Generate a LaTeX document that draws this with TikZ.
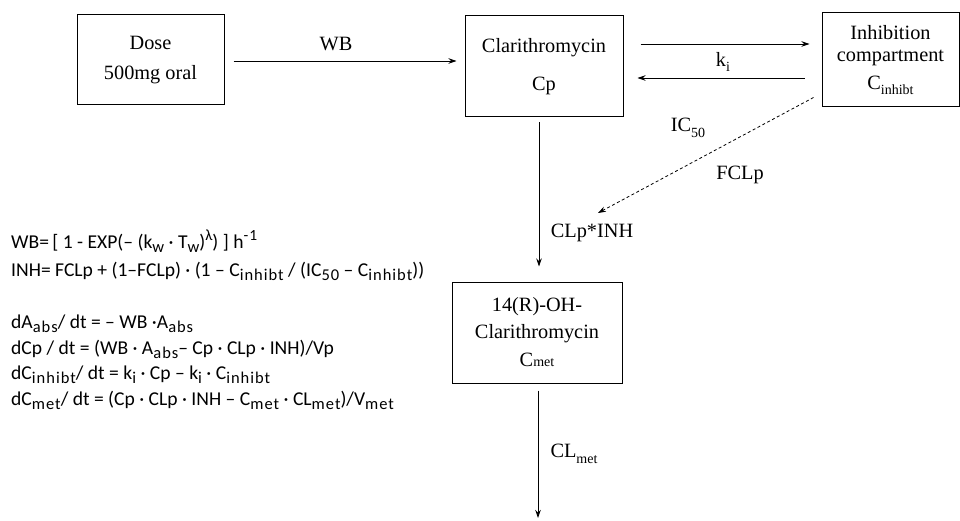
\documentclass[tikz,border=0pt]{standalone}
\usepackage{fontspec}
\setmainfont{Liberation Serif}
\newfontfamily\eqfont{Carlito}
\newfontfamily\subfont[LetterSpace=6]{Carlito}
\usetikzlibrary{arrows.meta,calc}
\newcommand\lo[1]{\raisebox{-0.28em}{\fontsize{14}{14}\selectfont #1}}
\newcommand\elo[1]{\raisebox{-0.25em}{\subfont\fontsize{16.5}{16}\selectfont #1}}
\newcommand\ehi[1]{\raisebox{0.4em}{\subfont\fontsize{15.5}{15}\selectfont #1}}
\begin{document}
\begin{tikzpicture}[x=1pt,y=-1pt,
  box/.style={draw, line width=1pt, rectangle, inner sep=0pt, align=center, font=\fontsize{20.3}{22}\selectfont},
  lbl/.style={font=\fontsize{20.3}{22}\selectfont, inner sep=0pt},
  eq/.style={font=\eqfont\fontsize{19.6}{22}\selectfont, anchor=base west, inner sep=0pt},
  arr/.style={line width=0.9pt, -{Stealth[length=8pt,width=5.5pt]}},
  darr/.style={arr, dash pattern=on 3pt off 2.5pt, line width=0.8pt},
]
\useasboundingbox (0,0) rectangle (960,521);

% boxes
\node[box, minimum width=147pt, minimum height=90pt] (dose) at (150.5,60) {Dose\\[8pt]500mg oral};
\node[box, minimum width=158pt, minimum height=101pt] (clar) at (544,66.5) {Clarithromycin\\[16pt]Cp};
\node[box, minimum width=137pt, minimum height=94pt] (inhib) at (890.5,60) {Inhibition\\compartment\\[6pt]C\lo{inhibt}};
\node[box, minimum width=170pt, minimum height=101pt] (met) at (537,332.5) {14(R)-OH-\\[5pt]Clarithromycin\\[6pt]C{\fontsize{14}{14}\selectfont met}};

% connectors
\coordinate (sink) at (538,518);
\coordinate (dend) at (598,213);
\draw[arr] ($(dose.east)+(9,1)$) -- ($(clar.west)+(-8,-5.5)$);
\draw[arr] ($(clar.east)+(17,-22.5)$) -- ($(inhib.west)+(-12,-16)$);
\draw[arr] ($(inhib.west)+(-17,18)$) -- ($(clar.east)+(14,11.5)$);
\draw[arr] ($(clar.south)+(-5,5)$) -- ($(met.north)+(2,-15)$);
\draw[darr] ($(inhib.south west)+(-8,-10)$) -- (dend);
\draw[arr] ($(met.south)+(1,7)$) -- (sink);

% labels
\node[lbl] (lwb) at (336,44) {WB};
\node[lbl] (lki) at (723,62) {k\lo{i}};
\node[lbl] (lic) at (688,128) {IC\lo{50}};
\node[lbl] (lfc) at (740,175) {FCLp};
\node[lbl] (lcl) at (592,233) {CLp*INH};
\node[lbl] (lcm) at (574,454) {CL\lo{met}};

% equations
\node[eq] (e1) at (11,248) {WB=\,[ 1 - EXP(– (k\elo{w} · T\elo{w})\ehi{λ}) ] h\ehi{-1}};
\node[eq] (e2) at (11,276) {INH= FCLp + (1–FCLp) · (1 – C\elo{inhibt} / (IC\elo{50} – C\elo{inhibt}))};
\node[eq] (e3) at (11,328) {dA\elo{abs}/ dt = – WB ·A\elo{abs}};
\node[eq] (e4) at (11,354) {dCp / dt = (WB · A\elo{abs}– Cp · CLp · INH)/Vp};
\node[eq] (e5) at (11,379) {dC\elo{inhibt}/ dt = k\elo{i} · Cp – k\elo{i} · C\elo{inhibt}};
\node[eq] (e6) at (11,405) {dC\elo{met}/ dt = (Cp · CLp · INH – C\elo{met} · CL\elo{met})/V\elo{met}};
\end{tikzpicture}
\end{document}
